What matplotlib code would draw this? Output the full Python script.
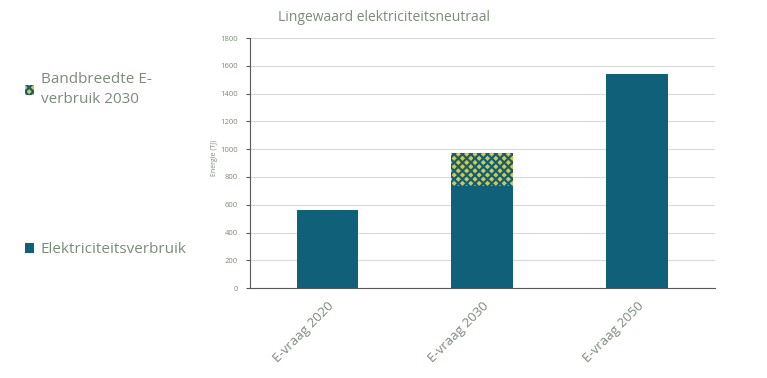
import numpy as np
import matplotlib.pyplot as plt

categories = ['E-vraag 2020', 'E-vraag 2030', 'E-vraag 2050']
verbruik = [560, 735, 1540]
bandbreedte = [0, 240, 0]

teal = '#10607a'
yellow = '#d8c84a'
txt = '#7b8c79'

plt.rcParams['font.family'] = ['Open Sans', 'DejaVu Sans']
plt.rcParams['hatch.linewidth'] = 1.6

fig = plt.figure(figsize=(7.67, 3.78), dpi=100)
ax = fig.add_axes([0.326, 0.238, 0.606, 0.661])

x = np.arange(len(categories))
b1 = ax.bar(x, verbruik, width=0.4, color=teal, edgecolor=teal, linewidth=0, zorder=3)
b2 = ax.bar(x, bandbreedte, width=0.4, bottom=verbruik, color=yellow,
            edgecolor=teal, hatch='xxxx', linewidth=0, zorder=3)

ax.set_xlim(-0.5, 2.5)
ax.set_ylim(0, 1800)
ax.set_yticks(np.arange(0, 1801, 200))
ax.grid(axis='y', color='#d9d9d9', linewidth=0.8, zorder=0)
for s in ['top', 'right']:
    ax.spines[s].set_visible(False)
ax.spines['left'].set_color('#595959')
ax.spines['bottom'].set_color('#595959')
ax.tick_params(axis='y', labelsize=5.5, labelcolor=txt, color='#595959', length=3, pad=6)
ax.tick_params(axis='x', length=0, labelsize=9.5, labelcolor=txt, pad=8)
ax.set_xticks(x)
ax.set_xticklabels(categories, rotation=45, ha='right', rotation_mode='anchor')
ax.set_ylabel('Energie (TJ)', fontsize=5, color=txt, labelpad=4)
ax.yaxis.set_label_coords(-0.068, 0.52)

fig.text(0.5, 0.955, 'Lingewaard elektriciteitsneutraal', fontsize=10, color=txt, ha='center', va='center')

fig.legend([b2], ['Bandbreedte E-\nverbruik 2030'], loc='upper left', bbox_to_anchor=(0.015, 0.845),
           frameon=False, fontsize=11, labelcolor=txt, handlelength=0.6, handleheight=0.6,
           handletextpad=0.4, alignment='left', prop={'size': 11})
for t in fig.legends[-1].get_texts():
    t.set_linespacing(1.45)
fig.legend([b1], ['Elektriciteitsverbruik'], loc='upper left', bbox_to_anchor=(0.015, 0.395),
           frameon=False, fontsize=11, labelcolor=txt, handlelength=0.6, handleheight=0.6,
           handletextpad=0.4)

fig.savefig('out.png', dpi=100)
